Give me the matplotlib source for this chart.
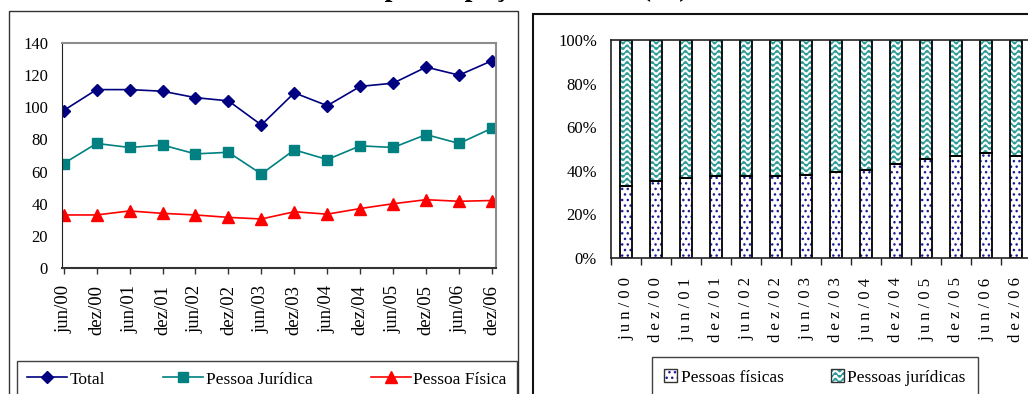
import warnings
import numpy as np
import matplotlib
matplotlib.use("Agg")
import matplotlib.pyplot as plt
import matplotlib.hatch as mhatch
from matplotlib.path import Path
from matplotlib.patches import Rectangle

warnings.filterwarnings("ignore")

# ---- data -------------------------------------------------------------
periods = ["jun/00", "dez/00", "jun/01", "dez/01", "jun/02", "dez/02", "jun/03",
           "dez/03", "jun/04", "dez/04", "jun/05", "dez/05", "jun/06", "dez/06"]
total = [98, 111, 111, 110, 106, 104, 89, 109, 101, 113, 115, 125, 120, 129]
pessoa_juridica = [65, 77.5, 75, 76.5, 71, 72, 58.5, 73.5, 67.5, 76, 75, 83, 77.5, 87]
pessoa_fisica = [33, 33, 35.5, 34, 33, 31.5, 30.5, 35, 33.5, 37, 40, 42.5, 41.5, 42]

share_fisicas = [33, 35.5, 36.5, 37.5, 37.5, 37.5, 38, 39.5, 40.5, 43, 45.5, 47, 48, 47]
share_juridicas = [100 - v for v in share_fisicas]

y_ticks_left = [0, 20, 40, 60, 80, 100, 120, 140]
y_ticks_right = [0, 20, 40, 60, 80, 100]

NAVY = "#000080"
TEAL = "#008080"
RED = "#FF0000"
WAVE = "#2E9C98"
DOTS = "#1C1C9C"


# ---- wavy hatch pattern ("~") ------------------------------------------
class WaveHatch(mhatch.HatchPatternBase):
    periods = 12
    samples = 8

    def __init__(self, hatch, density):
        self.num_lines = int(hatch.count("~") * density * 3)
        self.npts = self.periods * self.samples + 1
        self.num_vertices = self.num_lines * self.npts

    def set_vertices_and_codes(self, vertices, codes):
        if self.num_lines == 0:
            return
        xs = np.linspace(0.0, 1.0, self.npts)
        ys = np.linspace(0.0, 1.0, self.num_lines, endpoint=False) + 0.5 / self.num_lines
        amp = 0.4 / self.num_lines
        wave = amp * np.sin(2 * np.pi * self.periods * xs)
        for i, y0 in enumerate(ys):
            sl = slice(i * self.npts, (i + 1) * self.npts)
            vertices[sl, 0] = xs
            vertices[sl, 1] = y0 + wave
            codes[sl] = Path.LINETO
            codes[i * self.npts] = Path.MOVETO


mhatch._hatch_types.append(WaveHatch)

plt.rcParams["font.family"] = ["Liberation Serif", "DejaVu Serif"]
plt.rcParams["hatch.linewidth"] = 1.0

W, H = 1028, 394
fig = plt.figure(figsize=(W / 100, H / 100), dpi=100)


def fx(px):
    return px / W


def fy(py):
    return 1 - py / H


# panel frames
fig.add_artist(Rectangle((fx(9), fy(420)), fx(509), (420 - 11) / H,
                         transform=fig.transFigure, fill=False,
                         edgecolor="#333333", lw=1.0))
fig.add_artist(Rectangle((fx(533), fy(420)), fx(540), (420 - 14) / H,
                         transform=fig.transFigure, fill=False,
                         edgecolor="#111111", lw=1.5))

# title (runs above the top edge)
fig.text(fx(265), 1 + 4.5 / H, "Crédito e participação no total (%)",
         ha="left", va="baseline", fontsize=20.3, fontweight="bold")

# ---- left: line chart ---------------------------------------------------
ax1 = fig.add_axes([fx(62), fy(268), fx(434), 225 / H])
x = np.arange(len(periods))
ax1.plot(x, total, color=NAVY, lw=1.2, marker="D", ms=6.5, label="Total")
ax1.plot(x, pessoa_juridica, color=TEAL, lw=1.2, marker="s", ms=7,
         label="Pessoa Jurídica")
ax1.plot(x, pessoa_fisica, color=RED, lw=1.2, marker="^", ms=8.5,
         label="Pessoa Física")
ax1.set_xlim(-0.05, 13.12)
ax1.set_ylim(0, 140)
ax1.set_yticks(y_ticks_left)
ax1.set_xticks(x)
ax1.set_xticklabels(periods, rotation=90)
ax1.tick_params(axis="y", length=0, pad=10, labelsize=12)
ax1.tick_params(axis="x", length=4, width=1, pad=8, labelsize=13.5,
                color="#333333")
for side in ("top", "right"):
    ax1.spines[side].set_color("#8C8C8C")
    ax1.spines[side].set_linewidth(1.5)
ax1.spines["left"].set_color("#222222")
ax1.spines["bottom"].set_color("#333333")
ax1.spines["bottom"].set_linewidth(1.5)

leg1 = fig.legend(loc="upper left", bbox_to_anchor=(fx(17), 0, fx(500), fy(361)),
                  bbox_transform=fig.transFigure, mode="expand", ncol=3,
                  fontsize=12.5, frameon=True, fancybox=False, borderaxespad=0,
                  handlelength=2.3, handletextpad=0.15, borderpad=0.6)
leg1.get_frame().set_edgecolor("#111111")
leg1.get_frame().set_linewidth(1.0)

# ---- right: stacked 100% bars ---------------------------------------------
ax2 = fig.add_axes([fx(611), fy(258), fx(420), 218 / H])
bw = 0.42
ax2.bar(x, share_fisicas, bw, color="white", edgecolor=DOTS, hatch="...", lw=0)
ax2.bar(x, share_juridicas, bw, bottom=share_fisicas, color="white",
        edgecolor=WAVE, hatch="~", lw=0)
ax2.bar(x, share_fisicas, bw, fill=False, edgecolor="black", lw=1.3)
ax2.bar(x, share_juridicas, bw, bottom=share_fisicas, fill=False,
        edgecolor="black", lw=1.3)
ax2.set_xlim(-0.5, 13.5)
ax2.set_ylim(0, 100)
ax2.set_yticks(y_ticks_right)
ax2.set_yticklabels([f"{v}%" for v in y_ticks_right])
ax2.set_xticks(x)
ax2.set_xticklabels([" ".join(p) for p in periods], rotation=90)
ax2.set_xticks(np.arange(-0.5, 14, 1.0), minor=True)
ax2.tick_params(axis="x", which="major", length=0, pad=14, labelsize=12)
ax2.tick_params(axis="x", which="minor", length=5, width=1, color="#222222")
ax2.tick_params(axis="y", length=0, pad=10, labelsize=12)
for side in ("top", "left", "bottom", "right"):
    ax2.spines[side].set_color("#222222")
    ax2.spines[side].set_linewidth(1.2)

h_pf = (Rectangle((0, 0), 1, 1, facecolor="white", edgecolor=DOTS, hatch="...", lw=0),
        Rectangle((0, 0), 1, 1, fill=False, edgecolor="#333333", lw=1.0))
h_pj = (Rectangle((0, 0), 1, 1, facecolor="white", edgecolor=WAVE, hatch="~", lw=0),
        Rectangle((0, 0), 1, 1, fill=False, edgecolor="#333333", lw=1.0))
leg2 = fig.legend([h_pf, h_pj], ["Pessoas físicas", "Pessoas jurídicas"],
                  loc="upper left", bbox_to_anchor=(fx(652), 0, fx(326), fy(357)),
                  bbox_transform=fig.transFigure, mode="expand", ncol=2,
                  fontsize=12.5, frameon=True, fancybox=False, borderaxespad=0,
                  handlelength=0.75, handleheight=0.75, handletextpad=0.2,
                  borderpad=0.7)
leg2.get_frame().set_edgecolor("#111111")
leg2.get_frame().set_linewidth(1.0)

fig.savefig("out.png", dpi=100)
